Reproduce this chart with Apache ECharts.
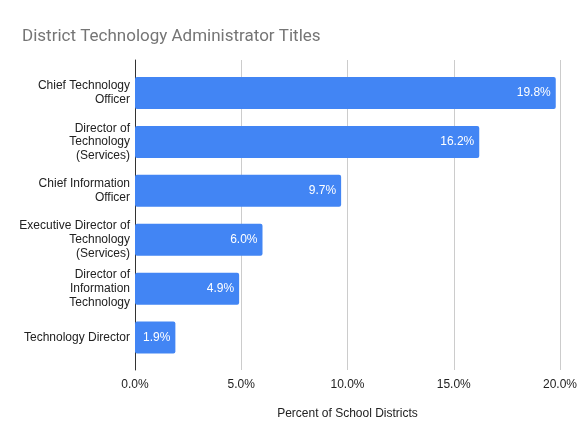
<!DOCTYPE html>
<html>
<head>
<meta charset="utf-8">
<script src="https://cdn.jsdelivr.net/npm/echarts@6/dist/echarts.min.js"></script>
<style>
  html, body { margin: 0; padding: 0; background: #fff; }
  #chart { width: 582px; height: 443px; }
</style>
</head>
<body>
<div id="chart"></div>
<script>
var titles = [
  'Chief Technology\nOfficer',
  'Director of\nTechnology\n(Services)',
  'Chief Information\nOfficer',
  'Executive Director of\nTechnology\n(Services)',
  'Director of\nInformation\nTechnology',
  'Technology Director'
];
var percents = [19.8, 16.2, 9.7, 6.0, 4.9, 1.9];
var xTicks = { min: 0, max: 20, step: 5 };

var fmt = function (v) { return Number(v).toFixed(1) + '%'; };
var font = 'Liberation Sans, Arial, sans-serif';

var myChart = echarts.init(document.getElementById('chart'));

myChart.setOption({
  animation: false,
  textStyle: { fontFamily: font },
  title: {
    text: 'District Technology Administrator Titles',
    left: 17,
    top: 23,
    textStyle: { fontFamily: 'Roboto, sans-serif', fontSize: 17, fontWeight: 'normal', color: '#757575' }
  },
  // grid 0 holds the gridlines and axes, grid 1 holds the bars
  grid: [
    { left: 135, right: 22, top: 60, bottom: 73 },
    { left: 135, right: 22, top: 68.5, bottom: 81 }
  ],
  xAxis: [
    {
      gridIndex: 0,
      type: 'value',
      min: xTicks.min,
      max: xTicks.max,
      interval: xTicks.step,
      axisLine: { show: false },
      axisTick: { show: false },
      splitLine: { lineStyle: { color: '#cccccc', width: 1 } },
      axisLabel: { formatter: fmt, color: '#222', fontSize: 12, margin: 9 },
      name: 'Percent of School Districts',
      nameLocation: 'middle',
      nameGap: 38,
      nameTextStyle: { color: '#222', fontSize: 12 }
    },
    {
      gridIndex: 1,
      type: 'value',
      min: xTicks.min,
      max: xTicks.max,
      show: false
    }
  ],
  yAxis: [
    {
      gridIndex: 0,
      type: 'value',
      axisLine: { show: true, lineStyle: { color: '#333', width: 1 } },
      axisTick: { show: false },
      axisLabel: { show: false },
      splitLine: { show: false }
    },
    {
      gridIndex: 1,
      type: 'category',
      inverse: true,
      data: titles,
      axisLine: { show: false },
      axisTick: { show: false },
      axisLabel: { color: '#222', fontSize: 12, lineHeight: 13.6, margin: 5, align: 'right' }
    }
  ],
  series: [{
    type: 'bar',
    xAxisIndex: 1,
    yAxisIndex: 1,
    data: percents,
    barWidth: 32,
    itemStyle: { color: '#4285f4', borderRadius: 2 },
    label: {
      show: true,
      position: 'insideRight',
      distance: 5,
      color: '#fff',
      fontSize: 12,
      formatter: function (p) { return fmt(p.value); }
    }
  }]
});
</script>
</body>
</html>
